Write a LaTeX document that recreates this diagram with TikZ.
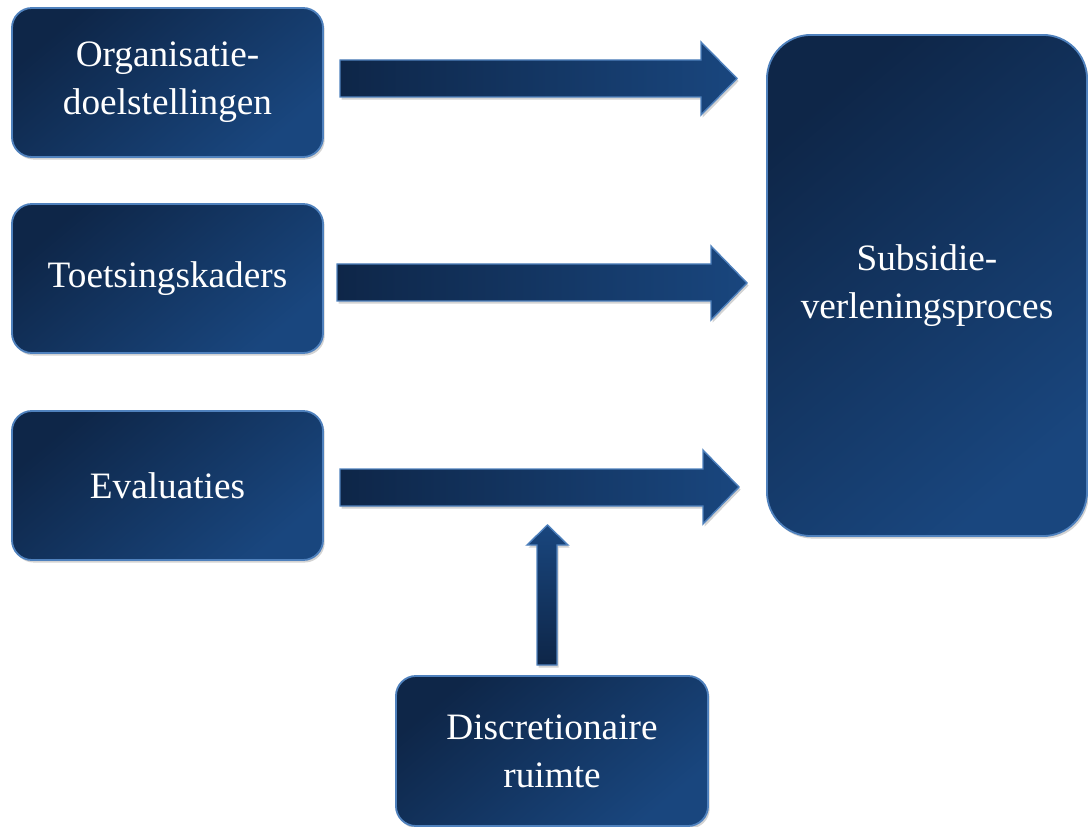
\documentclass[tikz,border=0pt]{standalone}
\usepackage{fontspec}
\setmainfont{Liberation Serif}
\usetikzlibrary{shadows}

\definecolor{navydark}{RGB}{14,38,72}
\definecolor{navylight}{RGB}{25,70,126}
\definecolor{edgeblue}{RGB}{79,129,189}

\tikzset{
  blok/.style={draw=edgeblue, line width=1.3pt, rounded corners=0.5cm,
    top color=navydark, bottom color=navylight, shading angle=40,
    drop shadow={opacity=0.35, shadow xshift=1.2pt, shadow yshift=-1.8pt},
    text=white, align=center, inner sep=0pt,
    font=\fontsize{26.5}{34}\selectfont},
  pijl/.style={draw=edgeblue, line width=1pt,
    left color=navydark, right color=navylight,
    drop shadow={opacity=0.35, shadow xshift=1.2pt, shadow yshift=-1.8pt}},
}

\begin{document}
\begin{tikzpicture}[x=0.025cm, y=-0.025cm]
            \useasboundingbox (0,0) rectangle (1088,827);

            % invoer links
            \node[blok, minimum width=7.775cm, minimum height=3.725cm] (doelen) at (167.5, 82.5) {Organisatie-\\doelstellingen};
            \node[blok, minimum width=7.775cm, minimum height=3.725cm] (kaders) at (167.5, 278.5) {Toetsingskaders};
            \node[blok, minimum width=7.775cm, minimum height=3.725cm] (evaluaties) at (167.5, 485.5) {Evaluaties};

            % proces rechts
            \node[blok, rounded corners=1.1cm, minimum width=8cm, minimum height=12.525cm] (proces) at (927, 285.5) {Subsidie-\\verleningsproces};

            % onder
            \node[blok, minimum width=7.8cm, minimum height=3.75cm] (ruimte) at (552, 751) {Discretionaire\\ruimte};

            % pijlen
            \path[pijl] (340,60) -- (701,60) -- (701,42) -- (737,78.5) -- (701,115) -- (701,97) -- (340,97) -- cycle;
            \path[pijl] (337,264) -- (711,264) -- (711,246) -- (747,283) -- (711,320) -- (711,301) -- (337,301) -- cycle;
            \path[pijl] (340,469) -- (703,469) -- (703,450) -- (739,487) -- (703,524) -- (703,506) -- (340,506) -- cycle;

            \path[pijl, top color=navylight, bottom color=navydark] (537,665) -- (537,545) -- (527,545) -- (547.5,525) -- (568,545) -- (557,545) -- (557,665) -- cycle;

        \end{tikzpicture}
\end{document}
